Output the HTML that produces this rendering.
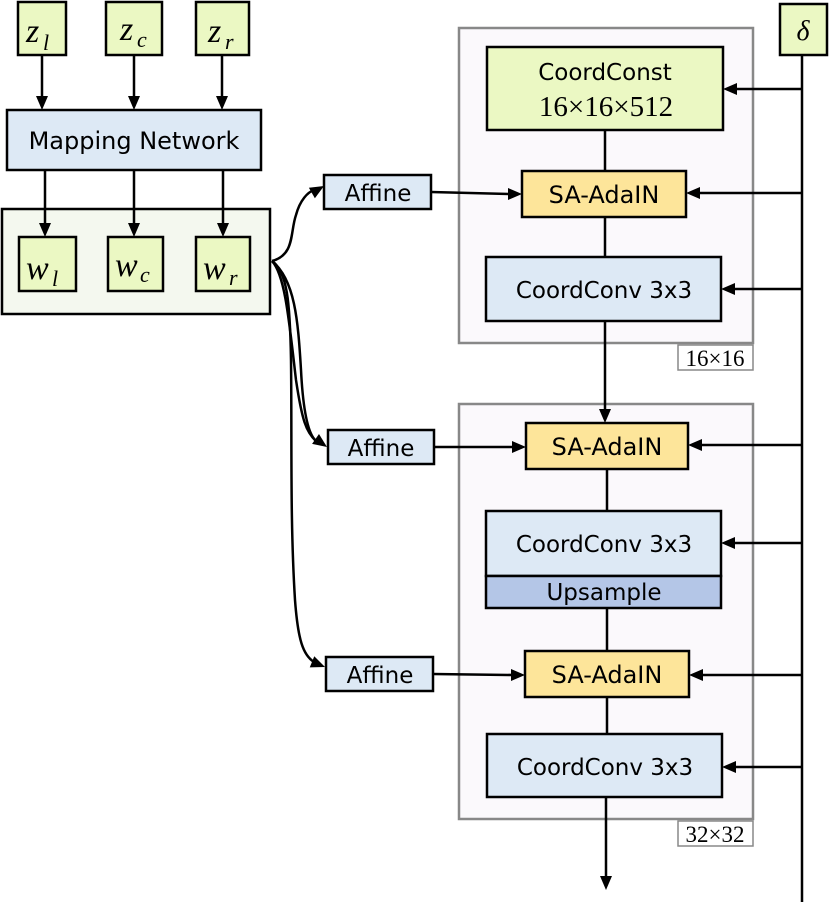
<!DOCTYPE html>
<html><head><meta charset="utf-8"><style>
html,body{margin:0;padding:0;background:#fff;}
svg{display:block;}
text{font-family:"DejaVu Sans","Liberation Sans",sans-serif;fill:#000;}
.m{font-family:"Liberation Serif",serif;font-style:italic;}
.s{font-family:"Liberation Serif",serif;}
</style></head><body>
<svg width="830" height="902" viewBox="0 0 830 902" xmlns="http://www.w3.org/2000/svg">
<g stroke="#000" stroke-width="2.5" fill="none">
<rect x="459" y="28" width="294" height="315" fill="#fbf9fc" stroke="#888"/>
<rect x="678" y="345" width="75" height="25" fill="#fff" stroke="#888" stroke-width="1.5"/>
<rect x="459" y="404" width="294" height="415" fill="#fbf9fc" stroke="#888"/>
<rect x="678" y="821" width="75" height="25" fill="#fff" stroke="#888" stroke-width="1.5"/>
<rect x="18" y="2" width="48" height="53" fill="#ebf8c3"/>
<rect x="106" y="2" width="56" height="53" fill="#ebf8c3"/>
<rect x="196" y="2" width="53" height="53" fill="#ebf8c3"/>
<rect x="7" y="110" width="254" height="60" fill="#dde9f5"/>
<rect x="2" y="209" width="268" height="105" fill="#f4f8ef"/>
<rect x="19" y="237" width="57" height="54" fill="#ebf8c3"/>
<rect x="108" y="237" width="55" height="54" fill="#ebf8c3"/>
<rect x="196" y="237" width="54" height="54" fill="#ebf8c3"/>
<rect x="780" y="4" width="47" height="51" fill="#ebf8c3"/>
<rect x="487" y="47" width="236" height="83" fill="#ebf8c3"/>
<rect x="522" y="171" width="164" height="46" fill="#fde59a"/>
<rect x="486" y="257" width="235" height="64" fill="#dde9f5"/>
<rect x="526" y="423" width="162" height="46" fill="#fde59a"/>
<rect x="486" y="511" width="235" height="65" fill="#dde9f5"/>
<rect x="486" y="576" width="235" height="32" fill="#b4c6e7"/>
<rect x="525" y="651" width="164" height="46" fill="#fde59a"/>
<rect x="487" y="734" width="235" height="63" fill="#dde9f5"/>
<rect x="324" y="175" width="107" height="34" fill="#dde9f5"/>
<rect x="328" y="430" width="106" height="34" fill="#dde9f5"/>
<rect x="326" y="657" width="107" height="34" fill="#dde9f5"/>
<path d="M42 55V98M134 55V98M222 55V98M45 170V225M134 170V225M223 170V225"/>
<path d="M802 55V902"/>
<path d="M802 89H735M802 193H700M802 289H733M802 445H702M802 543H733M802 675H703M802 767H734"/>
<path d="M605 130V171M605 217V257M607 469V511M607 608V651M607 697V734"/>
<path d="M605 321V410M606 797V878"/>
<path d="M431 192L510 194M434 447L514 447M433 674L513 675"/>
<path d="M272 261C295 255 290 232 296 215C300 200 308 192 314 190"/>
<path d="M272 261C295 280 298 320 301 370C303 410 308 434 316 441"/>
<path d="M272 261C287 272 290 300 291 360C292 440 290 520 295 600C298 640 303 655 314 662"/>
<path d="M272 261C285 275 289 320 296 380C302 420 306 432 316 441"/>
</g>
<g fill="#000">
<polygon points="36,96 48,96 42,110"/>
<polygon points="128,96 140,96 134,110"/>
<polygon points="216,96 228,96 222,110"/>
<polygon points="39,223 51,223 45,237"/>
<polygon points="128,223 140,223 134,237"/>
<polygon points="217,223 229,223 223,237"/>
<polygon points="599,409 611,409 605,423"/>
<polygon points="600,876 612,876 606,890"/>
<polygon points="723,89 737,83 737,95"/>
<polygon points="686,193 700,187 700,199"/>
<polygon points="721,289 735,283 735,295"/>
<polygon points="688,445 702,439 702,451"/>
<polygon points="721,543 735,537 735,549"/>
<polygon points="689,675 703,669 703,681"/>
<polygon points="722,767 736,761 736,773"/>
<polygon points="522,194 508,188 508,200"/>
<polygon points="526,447 512,441 512,453"/>
<polygon points="525,675 511,669 511,681"/>
<polygon points="0,0 -14,-6 -14,6" transform="translate(324,186) rotate(-30)"/>
<polygon points="0,0 -14,-6 -14,6" transform="translate(327,447) rotate(35)"/>
<polygon points="0,0 -14,-6 -14,6" transform="translate(325,667) rotate(22)"/>
</g>
<text x="26" y="42" class="m" font-size="34">z</text><text x="43" y="50" class="m" font-size="22">l</text>
<text x="120" y="40" class="m" font-size="34">z</text><text x="137" y="47" class="m" font-size="22">c</text>
<text x="208" y="42" class="m" font-size="34">z</text><text x="225" y="49" class="m" font-size="22">r</text>
<text x="134" y="149" font-size="24" text-anchor="middle">Mapping Network</text>
<text x="26" y="279" class="m" font-size="34">w</text><text x="52" y="286" class="m" font-size="22">l</text>
<text x="115" y="276" class="m" font-size="34">w</text><text x="140" y="282" class="m" font-size="22">c</text>
<text x="203" y="279" class="m" font-size="34">w</text><text x="229" y="285" class="m" font-size="22">r</text>
<text x="803" y="40" class="m" font-size="28" text-anchor="middle">δ</text>
<text x="605" y="80" font-size="23" text-anchor="middle">CoordConst</text>
<text x="606" y="116" class="s" font-size="29" text-anchor="middle">16×16×512</text>
<text x="604" y="203" font-size="24" text-anchor="middle">SA-AdaIN</text>
<text x="604" y="298" font-size="23" text-anchor="middle">CoordConv 3x3</text>
<text x="607" y="455" font-size="24" text-anchor="middle">SA-AdaIN</text>
<text x="604" y="552" font-size="23" text-anchor="middle">CoordConv 3x3</text>
<text x="604" y="600" font-size="23" text-anchor="middle">Upsample</text>
<text x="607" y="683" font-size="24" text-anchor="middle">SA-AdaIN</text>
<text x="605" y="775" font-size="23" text-anchor="middle">CoordConv 3x3</text>
<text x="378" y="201" font-size="23" text-anchor="middle">Affine</text>
<text x="381" y="456" font-size="23" text-anchor="middle">Affine</text>
<text x="380" y="683" font-size="23" text-anchor="middle">Affine</text>
<text x="715" y="366" class="s" font-size="23" text-anchor="middle">16×16</text>
<text x="715" y="842" class="s" font-size="23" text-anchor="middle">32×32</text>
</svg>
</body></html>
